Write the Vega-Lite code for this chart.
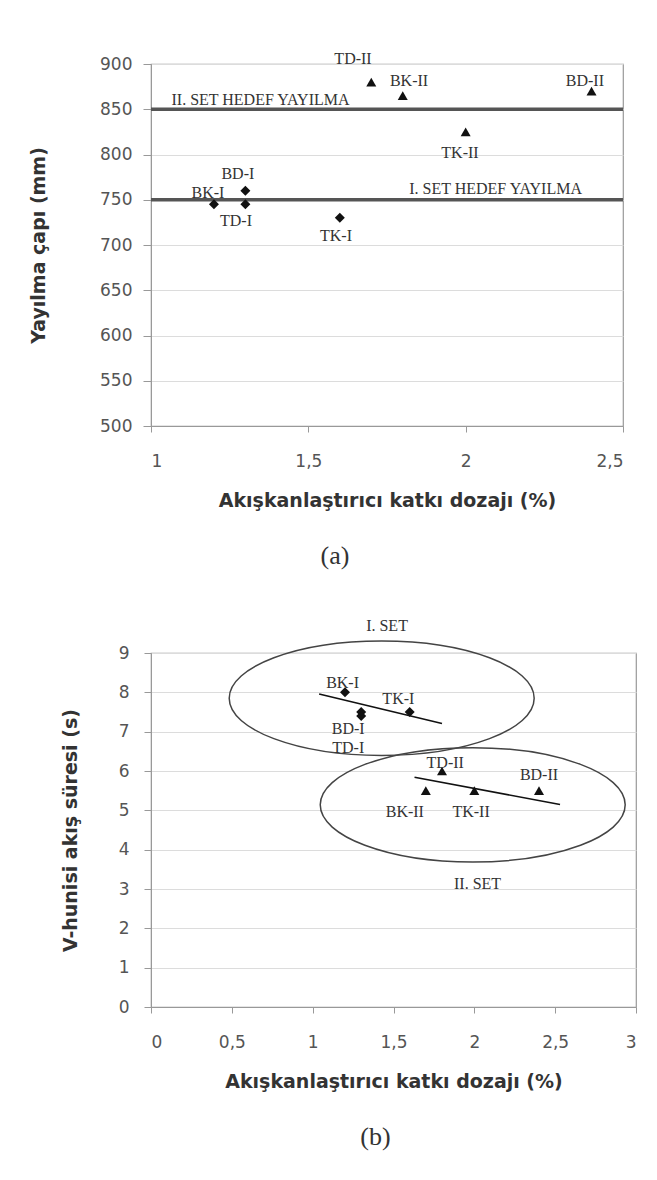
{
  "$schema": "https://vega.github.io/schema/vega-lite/v6.json",
  "padding": {"left": 28, "top": 50, "right": 5, "bottom": 5},
  "background": "white",
  "spacing": 47,
  "config": {
    "view": {"stroke": "#999", "strokeWidth": 1.2},
    "axis": {
      "labelFont": "DejaVu Sans", "labelFontSize": 17, "labelColor": "#555",
      "titleFont": "DejaVu Sans", "titleFontSize": 19, "titleFontWeight": "bold", "titleColor": "#333",
      "domainColor": "#999", "tickColor": "#999", "gridColor": "#dcdcdc", "gridWidth": 1.2, "labelOverlap": false, "tickCount": 30
    },
    "text": {"font": "Liberation Serif", "fontSize": 16, "color": "#333"}
  },
  "datasets": {
    "pointsA": [
      {"name": "BK-I", "set": "I", "x": 1.2, "y": 745, "lx": 1.181, "ly": 758},
      {"name": "BD-I", "set": "I", "x": 1.3, "y": 760, "lx": 1.276, "ly": 778},
      {"name": "TD-I", "set": "I", "x": 1.3, "y": 745, "lx": 1.27, "ly": 726},
      {"name": "TK-I", "set": "I", "x": 1.6, "y": 730, "lx": 1.588, "ly": 710},
      {"name": "TD-II", "set": "II", "x": 1.7, "y": 880, "lx": 1.642, "ly": 905},
      {"name": "BK-II", "set": "II", "x": 1.8, "y": 865, "lx": 1.82, "ly": 881},
      {"name": "TK-II", "set": "II", "x": 2.0, "y": 825, "lx": 1.982, "ly": 802},
      {"name": "BD-II", "set": "II", "x": 2.4, "y": 870, "lx": 2.379, "ly": 881}
    ],
    "refA": [
      {"label": "II. SET HEDEF YAYILMA", "v": 850, "lx": 1.348, "ly": 860},
      {"label": "I. SET HEDEF YAYILMA", "v": 750, "lx": 2.095, "ly": 762}
    ],
    "pointsB": [
      {"name": "BK-I", "set": "I", "x": 1.2, "y": 8.0, "lx": 1.185, "ly": 8.25},
      {"name": "TK-I", "set": "I", "x": 1.6, "y": 7.5, "lx": 1.53, "ly": 7.82},
      {"name": "BD-I", "set": "I", "x": 1.3, "y": 7.5, "lx": 1.22, "ly": 7.06},
      {"name": "TD-I", "set": "I", "x": 1.3, "y": 7.4, "lx": 1.22, "ly": 6.59},
      {"name": "BK-II", "set": "II", "x": 1.7, "y": 5.5, "lx": 1.57, "ly": 4.96},
      {"name": "TD-II", "set": "II", "x": 1.8, "y": 6.0, "lx": 1.82, "ly": 6.21},
      {"name": "TK-II", "set": "II", "x": 2.0, "y": 5.5, "lx": 1.98, "ly": 4.96},
      {"name": "BD-II", "set": "II", "x": 2.4, "y": 5.5, "lx": 2.4, "ly": 5.9}
    ],
    "trendB": [
      {"set": "I", "x": 1.04, "y": 7.96},
      {"set": "I", "x": 1.8, "y": 7.21},
      {"set": "II", "x": 1.63, "y": 5.84},
      {"set": "II", "x": 2.53, "y": 5.15}
    ],
    "ellipsesB": [
      {"name": "I. SET", "x": 1.427, "y": 7.85, "lx": 1.46, "ly": 9.68},
      {"name": "II. SET", "x": 1.99, "y": 5.14, "lx": 2.02, "ly": 3.12}
    ]
  },
  "vconcat": [
    {
      "width": 472,
      "height": 362,
      "title": {"text": "(a)", "orient": "bottom", "anchor": "middle", "frame": "group", "font": "Liberation Serif", "fontSize": 26, "fontWeight": "normal", "color": "#333", "offset": 33, "dx": -52},
      "layer": [
        {
          "data": {"name": "refA"},
          "mark": {"type": "rule", "stroke": "#555", "strokeWidth": 3.5},
          "encoding": {
            "y": {"field": "v", "type": "quantitative", "title": "Yayılma çapı (mm)", "scale": {"domain": [500, 900], "nice": false, "zero": false},
              "axis": {"title": "Yayılma çapı (mm)", "values": [500, 550, 600, 650, 700, 750, 800, 850, 900], "format": "d", "grid": true, "tickSize": 8, "labelPadding": 11, "titlePadding": 51}}
          }
        },
        {
          "data": {"name": "pointsA"},
          "mark": {"type": "point", "filled": true, "color": "#111", "size": 100, "opacity": 1},
          "encoding": {
            "x": {"field": "x", "type": "quantitative", "title": "Akışkanlaştırıcı katkı dozajı (%)",
              "scale": {"domain": [1, 2.5], "nice": false, "zero": false},
              "axis": {"title": "Akışkanlaştırıcı katkı dozajı (%)", "values": [1, 1.5, 2, 2.5], "format": "~g", "labelExpr": "replace(datum.label, '.', ',')", "grid": false, "tickSize": 6, "labelPadding": 21, "titlePadding": 22}},
            "y": {"field": "y", "type": "quantitative", "title": "Yayılma çapı (mm)",
              "scale": {"domain": [500, 900], "nice": false, "zero": false},
              "axis": {"title": "Yayılma çapı (mm)", "values": [500, 550, 600, 650, 700, 750, 800, 850, 900], "format": "d", "grid": true, "tickSize": 8, "labelPadding": 11, "titlePadding": 51}},
            "shape": {"field": "set", "type": "nominal", "scale": {"domain": ["I", "II"], "range": ["diamond", "triangle-up"]}, "legend": null}
          }
        },
        {
          "data": {"name": "pointsA"},
          "mark": {"type": "text", "baseline": "middle", "align": "center"},
          "encoding": {
            "x": {"field": "lx", "type": "quantitative", "title": "Akışkanlaştırıcı katkı dozajı (%)"},
            "y": {"field": "ly", "type": "quantitative", "title": "Yayılma çapı (mm)"},
            "text": {"field": "name", "type": "nominal"}
          }
        },
        {
          "data": {"name": "refA"},
          "mark": {"type": "text", "baseline": "middle", "align": "center"},
          "encoding": {
            "x": {"field": "lx", "type": "quantitative", "title": "Akışkanlaştırıcı katkı dozajı (%)"},
            "y": {"field": "ly", "type": "quantitative", "title": "Yayılma çapı (mm)"},
            "text": {"field": "label", "type": "nominal"}
          }
        }
      ]
    },
    {
      "width": 485,
      "height": 354,
      "title": {"text": "(b)", "orient": "bottom", "anchor": "middle", "frame": "group", "font": "Liberation Serif", "fontSize": 26, "fontWeight": "normal", "color": "#333", "offset": 33, "dx": -18},
      "layer": [
        {
          "data": {"name": "ellipsesB"},
          "mark": {"type": "point", "filled": false, "stroke": "#444", "strokeWidth": 1.5, "opacity": 1, "size": 93000,
            "shape": "M -1 0 C -1 -0.2071 -0.5523 -0.375 0 -0.375 C 0.5523 -0.375 1 -0.2071 1 0 C 1 0.2071 0.5523 0.375 0 0.375 C -0.5523 0.375 -1 0.2071 -1 0 Z"},
          "encoding": {
            "x": {"field": "x", "type": "quantitative", "title": "Akışkanlaştırıcı katkı dozajı (%)", "scale": {"domain": [0, 3], "nice": false},
              "axis": {"title": "Akışkanlaştırıcı katkı dozajı (%)", "values": [0, 0.5, 1, 1.5, 2, 2.5, 3], "format": "~g", "labelExpr": "replace(datum.label, '.', ',')", "grid": false, "tickSize": 6, "labelPadding": 21, "titlePadding": 22}},
            "y": {"field": "y", "type": "quantitative", "title": "V-hunisi akış süresi (s)", "scale": {"domain": [0, 9], "nice": false},
              "axis": {"title": "V-hunisi akış süresi (s)", "values": [0, 1, 2, 3, 4, 5, 6, 7, 8, 9], "format": "d", "grid": true, "tickCount": 30, "tickSize": 7, "labelPadding": 15, "titlePadding": 38}}
          }
        },
        {
          "data": {"name": "trendB"},
          "mark": {"type": "line", "stroke": "#111", "strokeWidth": 1.6},
          "encoding": {
            "x": {"field": "x", "type": "quantitative", "title": "Akışkanlaştırıcı katkı dozajı (%)"},
            "y": {"field": "y", "type": "quantitative", "title": "V-hunisi akış süresi (s)"},
            "detail": {"field": "set", "type": "nominal"}
          }
        },
        {
          "data": {"name": "pointsB"},
          "mark": {"type": "point", "filled": true, "color": "#111", "size": 100, "opacity": 1},
          "encoding": {
            "x": {"field": "x", "type": "quantitative", "title": "Akışkanlaştırıcı katkı dozajı (%)",
              "scale": {"domain": [0, 3], "nice": false},
              "axis": {"title": "Akışkanlaştırıcı katkı dozajı (%)", "values": [0, 0.5, 1, 1.5, 2, 2.5, 3], "format": "~g", "labelExpr": "replace(datum.label, '.', ',')", "grid": false, "tickSize": 6, "labelPadding": 21, "titlePadding": 22}},
            "y": {"field": "y", "type": "quantitative", "title": "V-hunisi akış süresi (s)",
              "scale": {"domain": [0, 9], "nice": false},
              "axis": {"title": "V-hunisi akış süresi (s)", "values": [0, 1, 2, 3, 4, 5, 6, 7, 8, 9], "format": "d", "grid": true, "tickCount": 30, "tickSize": 7, "labelPadding": 15, "titlePadding": 38}},
            "shape": {"field": "set", "type": "nominal", "scale": {"domain": ["I", "II"], "range": ["diamond", "triangle-up"]}, "legend": null}
          }
        },
        {
          "data": {"name": "pointsB"},
          "mark": {"type": "text", "baseline": "middle", "align": "center"},
          "encoding": {
            "x": {"field": "lx", "type": "quantitative", "title": "Akışkanlaştırıcı katkı dozajı (%)"},
            "y": {"field": "ly", "type": "quantitative", "title": "V-hunisi akış süresi (s)"},
            "text": {"field": "name", "type": "nominal"}
          }
        },
        {
          "data": {"name": "ellipsesB"},
          "mark": {"type": "text", "baseline": "middle", "align": "center"},
          "encoding": {
            "x": {"field": "lx", "type": "quantitative", "title": "Akışkanlaştırıcı katkı dozajı (%)"},
            "y": {"field": "ly", "type": "quantitative", "title": "V-hunisi akış süresi (s)"},
            "text": {"field": "name", "type": "nominal"}
          }
        }
      ]
    }
  ]
}
